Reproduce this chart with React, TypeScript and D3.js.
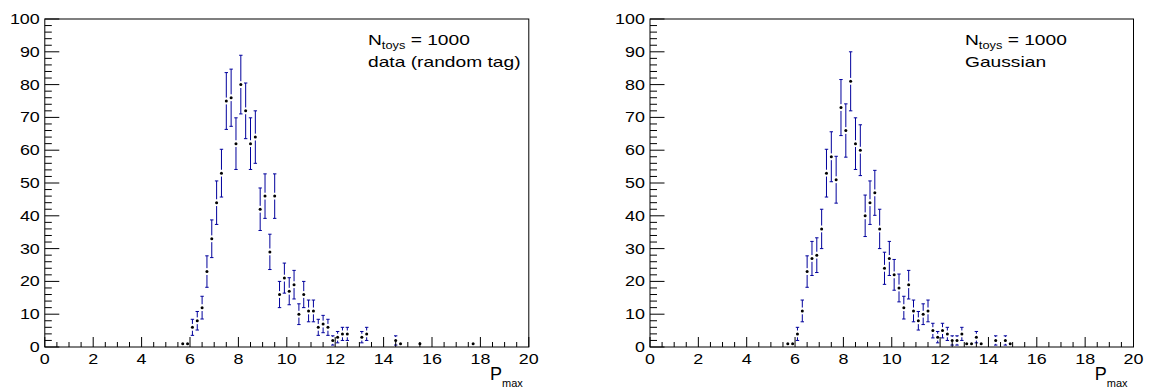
import React from "react";
import * as d3 from "d3";

// Toy-study histograms of P_max, 100 bins of width 0.2 on [0, 20]
const leftBins = [5.7, 5.9, 6.1, 6.3, 6.5, 6.7, 6.9, 7.1, 7.3, 7.5, 7.7, 7.9, 8.1, 8.3, 8.5, 8.7, 8.9, 9.1, 9.3, 9.5, 9.7, 9.9, 10.1, 10.3, 10.5, 10.7, 10.9, 11.1, 11.3, 11.5, 11.7, 11.9, 12.1, 12.3, 12.5, 13.1, 13.3, 14.5, 14.7, 15.5, 17.7];
const leftCounts = [1, 1, 6, 8, 12, 23, 33, 44, 53, 75, 76, 62, 80, 72, 62, 64, 42, 46, 29, 46, 16, 21, 17, 19, 10, 16, 11, 11, 6, 7, 6, 2, 3, 4, 4, 3, 4, 2, 1, 1, 1];

const rightBins = [5.7, 5.9, 6.1, 6.3, 6.5, 6.7, 6.9, 7.1, 7.3, 7.5, 7.7, 7.9, 8.1, 8.3, 8.5, 8.7, 8.9, 9.1, 9.3, 9.5, 9.7, 9.9, 10.1, 10.3, 10.5, 10.7, 10.9, 11.1, 11.3, 11.5, 11.7, 11.9, 12.1, 12.3, 12.5, 12.7, 12.9, 13.1, 13.3, 13.5, 13.7, 14.3, 14.7, 14.9];
const rightCounts = [1, 1, 4, 11, 23, 27, 28, 36, 53, 58, 51, 73, 66, 81, 62, 60, 40, 44, 47, 36, 24, 27, 22, 18, 12, 19, 11, 8, 10, 11, 5, 3, 5, 4, 2, 2, 4, 1, 1, 3, 1, 2, 2, 1];

const xTickLabels = [0, 2, 4, 6, 8, 10, 12, 14, 16, 18, 20];
const yTickLabels = [0, 10, 20, 30, 40, 50, 60, 70, 80, 90, 100];

const W = 1152;
const H = 390;
const SX = 1.28; // horizontal text stretch
const FONT = "Liberation Sans, Arial, Helvetica, sans-serif";
const ERR = "#00009c";

type PanelProps = {
  x0: number;
  x1: number;
  bins: number[];
  counts: number[];
  label: string;
  legendX: number;
};

function SText({ x, y, size, anchor = "start", children }: any) {
  return (
    <text
      transform={`translate(${x},${y}) scale(${SX},1)`}
      fontSize={size}
      fontFamily={FONT}
      textAnchor={anchor}
      fill="#000"
    >
      {children}
    </text>
  );
}

function Panel({ x0, x1, bins, counts, label, legendX }: PanelProps) {
  const x = d3.scaleLinear().domain([0, 20]).range([x0, x1]);
  const y = d3.scaleLinear().domain([0, 100]).range([347, 19]);
  const [yb, yt] = y.range();

  const xMinor = d3.range(0, 20.001, 0.5);
  const yMinor = d3.range(0, 100.001, 2);
  const xMajLen = 10;
  const xMinLen = 5;
  const yMajLen = 14.5;
  const yMinLen = 7;

  const gap = 3.4;
  const cap = 1.7;

  return (
    <g>
      {/* error bars */}
      {bins.map((b, i) => {
        const c = counts[i];
        const cx = x(b);
        const cy = y(c);
        const e = Math.sqrt(c);
        const top = y(c + e);
        const bot = y(Math.max(c - e, 0));
        if (cy - top <= gap) return null;
        return (
          <g key={"e" + i} stroke={ERR} strokeWidth={1} fill="none">
            <line x1={cx} x2={cx} y1={top} y2={cy - gap} />
            <line x1={cx} x2={cx} y1={cy + gap} y2={bot} />
            <line x1={cx - cap} x2={cx + cap} y1={top} y2={top} />
            <line x1={cx - cap} x2={cx + cap} y1={bot} y2={bot} />
          </g>
        );
      })}
      {/* markers */}
      {bins.map((b, i) => (
        <circle key={"m" + i} cx={x(b)} cy={y(counts[i])} r={1.5} fill="#000" />
      ))}

      {/* frame */}
      <rect x={x0} y={yt} width={x1 - x0} height={yb - yt} fill="none" stroke="#000" strokeWidth={1} />

      {/* x ticks */}
      {xMinor.map((v, i) => {
        const major = Math.abs(v / 2 - Math.round(v / 2)) < 1e-6;
        return (
          <line
            key={"xt" + i}
            x1={x(v)}
            x2={x(v)}
            y1={yb}
            y2={yb - (major ? xMajLen : xMinLen)}
            stroke="#000"
            strokeWidth={1}
          />
        );
      })}
      {/* y ticks */}
      {yMinor.map((v, i) => {
        const major = v % 10 === 0;
        return (
          <line
            key={"yt" + i}
            x1={x0}
            x2={x0 + (major ? yMajLen : yMinLen)}
            y1={y(v)}
            y2={y(v)}
            stroke="#000"
            strokeWidth={1}
          />
        );
      })}

      {/* tick labels */}
      {xTickLabels.map((v) => (
        <SText key={"xl" + v} x={x(v)} y={364} size={14} anchor="middle">
          {v}
        </SText>
      ))}
      {yTickLabels.map((v) => (
        <SText key={"yl" + v} x={x0 - 5} y={y(v) + 5} size={14} anchor="end">
          {v}
        </SText>
      ))}

      {/* axis title */}
      <text x={x1 - 6} y={380} fontFamily={FONT} fill="#000" textAnchor="end">
        <tspan fontSize={18}>P</tspan>
        <tspan fontSize={11} dy={7}>max</tspan>
      </text>

      {/* legend text */}
      <SText x={legendX} y={45} size={15}>
        <tspan>N</tspan>
        <tspan fontSize={10} dy={4}>toys</tspan>
        <tspan dy={-4}> = 1000</tspan>
      </SText>
      <SText x={legendX} y={67} size={15}>
        {label}
      </SText>
    </g>
  );
}

export default function App() {
  return (
    <div style={{ position: "fixed", left: 0, top: 0, background: "#fff" }}>
      <svg width={W} height={H} viewBox={`0 0 ${W} ${H}`} style={{ display: "block" }}>
        <rect width={W} height={H} fill="#fff" />
        <Panel x0={44.8} x1={528.8} bins={leftBins} counts={leftCounts} label="data (random tag)" legendX={368} />
        <Panel x0={650} x1={1133.5} bins={rightBins} counts={rightCounts} label="Gaussian" legendX={965} />
      </svg>
    </div>
  );
}
